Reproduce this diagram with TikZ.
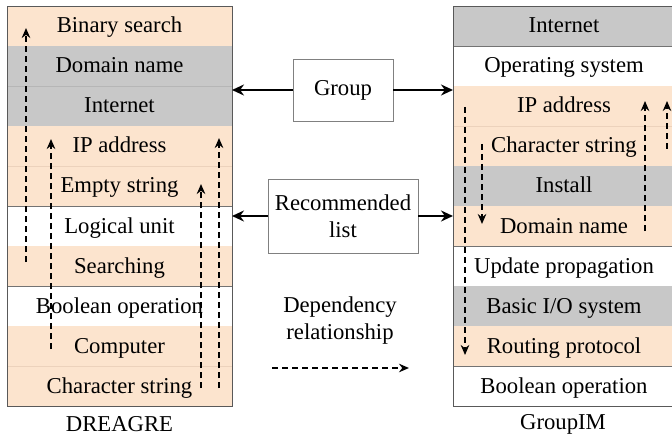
\documentclass[tikz,border=0pt]{standalone}
\usepackage{fontspec}
\setmainfont{Liberation Serif}
\usetikzlibrary{arrows.meta}
\definecolor{peach}{RGB}{252,228,206}
\definecolor{cellgrey}{RGB}{200,200,200}
\definecolor{peachline}{RGB}{236,210,188}
\definecolor{greyline}{RGB}{182,182,182}
\begin{document}
\begin{tikzpicture}[x=1pt,y=-1pt,
  every node/.style={font=\fontsize{22.7}{27}\selectfont, inner sep=0pt, outer sep=0pt},
  lrow/.style={minimum width=225pt, minimum height=40pt, text height=16pt, text depth=2pt},
  rrow/.style={minimum width=222pt, minimum height=40pt, text height=16pt, text depth=2pt},
  pc/.style={fill=peach},
  gc/.style={fill=cellgrey},
  wc/.style={fill=white, draw=black!55, line width=0.8pt},
  midbox/.style={draw=black!50, line width=0.8pt, align=center},
  txt/.style={align=center},
  dep/.style={line width=1.6pt, dash pattern=on 6pt off 4pt, -{Stealth[length=10pt,width=8.5pt]}},
  link/.style={line width=2.7pt, -{Stealth[length=12pt,width=11pt]}},
  divp/.style={draw=peachline, line width=0.8pt},
  divg/.style={draw=greyline, line width=0.8pt},
  outer/.style={draw=black!65, line width=0.9pt},
]
\useasboundingbox (0,0) rectangle (672,441);
% left stack
\node[lrow,pc] (L0) at (119.5,26) {Binary search};
\node[lrow,gc] (L1) at (119.5,66) {Domain name};
\node[lrow,gc] (L2) at (119.5,106) {Internet};
\node[lrow,pc] (L3) at (119.5,146) {IP address};
\node[lrow,pc] (L4) at (119.5,186) {Empty string};
\node[lrow,wc] (L5) at (119.5,226) {Logical unit};
\node[lrow,pc] (L6) at (119.5,266) {Searching};
\node[lrow,wc] (L7) at (119.5,306) {Boolean operation};
\node[lrow,pc] (L8) at (119.5,346) {Computer};
\node[lrow,pc] (L9) at (119.5,386) {Character string};
\draw[divg] (L1.south west) -- (L1.south east);
\draw[divp] (L3.south west) -- (L3.south east);
\draw[divp] (L8.south west) -- (L8.south east);
\draw[outer] (L0.north west) rectangle (L9.south east);
% right stack
\node[rrow,gc] (R0) at (564,26) {Internet};
\node[rrow,wc] (R1) at (564,66) {Operating system};
\node[rrow,pc] (R2) at (564,106) {IP address};
\node[rrow,pc] (R3) at (564,146) {Character string};
\node[rrow,gc] (R4) at (564,186) {Install};
\node[rrow,pc] (R5) at (564,226) {Domain name};
\node[rrow,wc] (R6) at (564,266) {Update propagation};
\node[rrow,gc] (R7) at (564,306) {Basic I/O system};
\node[rrow,pc] (R8) at (564,346) {Routing protocol};
\node[rrow,wc] (R9) at (564,386) {Boolean operation};
\draw[divp] (R2.south west) -- (R2.south east);
\draw[outer] (R0.north west) rectangle (R9.south east);
% captions
\node[txt] (capL) at (119.5,424) {DREAGRE};
\node[txt] (capR) at (563,424) {GroupIM};
% middle boxes
\node[midbox, minimum width=100pt, minimum height=62pt] (group) at (343,90) {Group};
\node[midbox, minimum width=150pt, minimum height=74pt] (rec) at (343,216) {Recommended\\list};
\draw[link] (group.west) -- (group.west -| L2.east);
\draw[link] (group.east) -- (group.east -| R1.west);
\draw[link] (rec.west) -- (rec.west -| L5.east);
\draw[link] (rec.east) -- (rec.east -| R5.west);
% legend
\node[txt] (deptxt) at (340,321) {Dependency\\relationship};
\coordinate (lgs) at (272,368);
\coordinate (lge) at (409,368);
\draw[dep] (lgs) -- (lge);
% left dependency arrows
\coordinate (a1s) at (26,262); \coordinate (a1e) at (26,28);
\coordinate (a2s) at (51,349); \coordinate (a2e) at (51,139);
\coordinate (a3s) at (201,388); \coordinate (a3e) at (201,184);
\coordinate (a4s) at (219,388); \coordinate (a4e) at (219,138);
\draw[dep] (a1s) -- (a1e);
\draw[dep] (a2s) -- (a2e);
\draw[dep] (a3s) -- (a3e);
\draw[dep] (a4s) -- (a4e);
% right dependency arrows
\coordinate (b1s) at (465,107); \coordinate (b1e) at (465,355);
\coordinate (b2s) at (482,144); \coordinate (b2e) at (482,224);
\coordinate (b3s) at (645,231); \coordinate (b3e) at (645,101);
\coordinate (b4s) at (667,149); \coordinate (b4e) at (667,101);
\draw[dep] (b1s) -- (b1e);
\draw[dep] (b2s) -- (b2e);
\draw[dep] (b3s) -- (b3e);
\draw[dep] (b4s) -- (b4e);
\end{tikzpicture}
\end{document}
